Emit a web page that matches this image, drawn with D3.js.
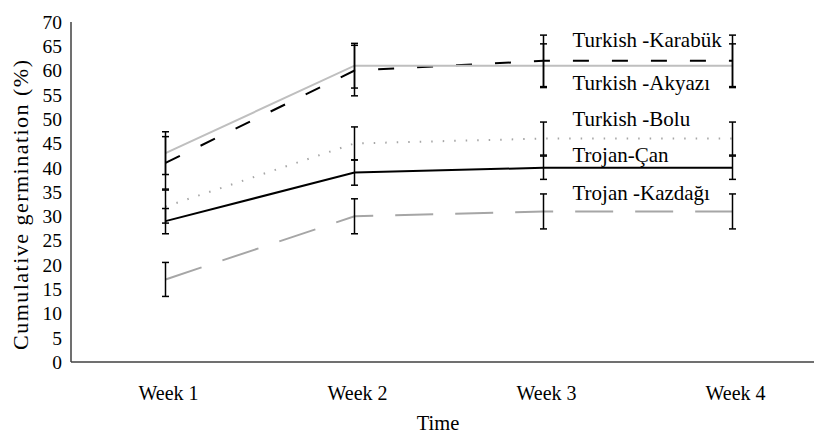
<!DOCTYPE html>
<html>
<head>
<meta charset="utf-8">
<script src="https://cdn.jsdelivr.net/npm/d3@7"></script>
<style>
  body { margin: 0; background: #fff; }
  svg { display: block; font-family: "Liberation Serif", "DejaVu Serif", serif; }
</style>
</head>
<body>
<svg id="chart"></svg>
<script>
// weeks on the x axis
const weeks = ["Week 1", "Week 2", "Week 3", "Week 4"];
const yTicks = d3.range(0, 71, 5);

// germination means and error half-widths per population
const karabuk = [41, 60, 62, 62];
const karabukErr = [5.4, 5.2, 5.3, 5.3];
const akyazi = [43, 61, 61, 61];
const akyaziErr = [4.4, 4.6, 4.5, 4.5];
const bolu = [32, 45, 46, 46];
const boluErr = [3.4, 3.4, 3.4, 3.4];
const can = [29, 39, 40, 40];
const canErr = [2.6, 2.6, 2.4, 2.4];
const kazdagi = [17, 30, 31, 31];
const kazdagiErr = [3.5, 3.6, 3.6, 3.6];

const labels = ["Turkish -Karabük", "Turkish -Akyazı", "Turkish -Bolu", "Trojan-Çan", "Trojan -Kazdağı"];
const labelAt = [66.3, 57.6, 50.2, 42.6, 34.8];

const series = [
  {name: labels[0], values: karabuk, err: karabukErr, color: "#000", dash: "16,23", width: 2},
  {name: labels[1], values: akyazi, err: akyaziErr, color: "#bfbfbf", dash: null, width: 2},
  {name: labels[2], values: bolu, err: boluErr, color: "#a6a6a6", dash: "1.5,10", width: 2},
  {name: labels[3], values: can, err: canErr, color: "#000", dash: null, width: 2},
  {name: labels[4], values: kazdagi, err: kazdagiErr, color: "#a6a6a6", dash: "38,22", width: 2}
];

const width = 814, height = 434;
const svg = d3.select("#chart").attr("width", width).attr("height", height);

const mLeft = 71, mTop = 22, mBottom = 362;
const x = d3.scaleBand().domain(weeks).range([mLeft, mLeft + 756]);
const cx = w => x(w) + x.bandwidth() / 2;
const y = d3.scaleLinear().domain([0, 70]).range([mBottom, mTop]);

// y axis
svg.append("line")
  .attr("x1", mLeft).attr("x2", mLeft)
  .attr("y1", y(70)).attr("y2", y(0))
  .attr("stroke", "#404040").attr("stroke-width", 1.5);
svg.append("g").selectAll("text")
  .data(yTicks)
  .join("text")
  .attr("x", mLeft - 9)
  .attr("y", d => y(d))
  .attr("dy", "0.35em")
  .attr("text-anchor", "end")
  .attr("font-size", 19.5)
  .attr("fill", "#000")
  .text(d => d);

// x axis
svg.append("line")
  .attr("x1", mLeft).attr("x2", width)
  .attr("y1", y(0)).attr("y2", y(0))
  .attr("stroke", "#404040").attr("stroke-width", 1.5);
svg.append("g").selectAll("text")
  .data(weeks)
  .join("text")
  .attr("x", d => cx(d) + 3)
  .attr("y", y(0) + 31)
  .attr("dy", "0.35em")
  .attr("text-anchor", "middle")
  .attr("font-size", 20)
  .text(d => d);

svg.append("text")
  .attr("x", 438)
  .attr("y", 423)
  .attr("dy", "0.35em")
  .attr("text-anchor", "middle")
  .attr("font-size", 20.5)
  .text("Time");

svg.append("text")
  .attr("transform", `translate(20,205) rotate(-90)`)
  .attr("dy", "0.35em")
  .attr("text-anchor", "middle")
  .attr("font-size", 22)
  .attr("textLength", 290)
  .attr("lengthAdjust", "spacing")
  .text("Cumulative germination (%)");

// lines
const line = d3.line().x((d, i) => cx(weeks[i])).y(d => y(d));
svg.append("g").selectAll("path")
  .data(series)
  .join("path")
  .attr("d", s => line(s.values))
  .attr("fill", "none")
  .attr("stroke", s => s.color)
  .attr("stroke-width", s => s.width)
  .attr("stroke-dasharray", s => s.dash);

// error bars
const bars = series.flatMap(s => s.values.map((v, i) => ({x: cx(weeks[i]), lo: v - s.err[i], hi: v + s.err[i]})));
const eb = svg.append("g").attr("stroke", "#000").attr("stroke-width", 1.5);
eb.selectAll("line.v").data(bars).join("line").attr("class", "v")
  .attr("x1", d => d.x).attr("x2", d => d.x)
  .attr("y1", d => y(d.lo)).attr("y2", d => y(d.hi));
eb.selectAll("line.hi").data(bars).join("line").attr("class", "hi")
  .attr("x1", d => d.x - 3.5).attr("x2", d => d.x + 3.5)
  .attr("y1", d => y(d.hi)).attr("y2", d => y(d.hi));
eb.selectAll("line.lo").data(bars).join("line").attr("class", "lo")
  .attr("x1", d => d.x - 3.5).attr("x2", d => d.x + 3.5)
  .attr("y1", d => y(d.lo)).attr("y2", d => y(d.lo));

// series labels
const labelX = cx(weeks[2]) + 29;
svg.append("g").selectAll("text")
  .data(labels)
  .join("text")
  .attr("x", labelX)
  .attr("y", (d, i) => y(labelAt[i]))
  .attr("dy", "0.35em")
  .attr("text-anchor", "start")
  .attr("font-size", 21)
  .attr("fill", "#000")
  .text(d => d);
</script>
</body>
</html>
